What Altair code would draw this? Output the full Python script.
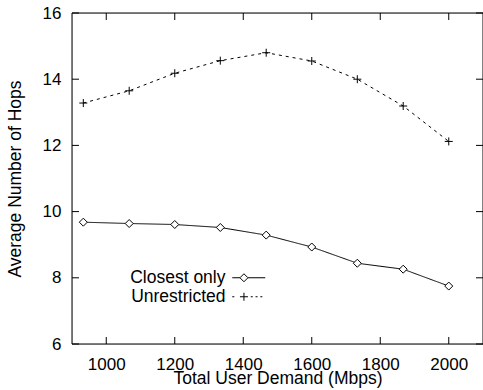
import altair as alt
import pandas as pd

demand = [933, 1067, 1200, 1333, 1467, 1600, 1733, 1867, 2000]
closest = [9.68, 9.64, 9.61, 9.52, 9.29, 8.93, 8.44, 8.26, 7.75]
unrestricted = [13.28, 13.65, 14.18, 14.56, 14.80, 14.55, 14.00, 13.19, 12.12]
series_names = ["Closest only", "Unrestricted"]
x_ticks = [1000, 1200, 1400, 1600, 1800, 2000]
y_ticks = [6, 8, 10, 12, 14, 16]

rows = []
for d, c in zip(demand, closest):
    rows.append({"demand": d, "hops": c, "series": series_names[0]})
for d, u in zip(demand, unrestricted):
    rows.append({"demand": d, "hops": u, "series": series_names[1]})
df = pd.DataFrame(rows)
xt_df = pd.DataFrame({"demand": x_ticks})
yt_df = pd.DataFrame({"hops": y_ticks})
frame_df = pd.DataFrame({"k": [0]})

FONT = "Liberation Sans"
W, H = 411, 331
TICK_SIZE = 196  # symbol area giving 7px tick length
xscale = alt.Scale(domain=[900, 2100], nice=False, zero=False)
yscale = alt.Scale(domain=[6, 16], nice=False, zero=False)

label_common = dict(domain=False, grid=False, ticks=False, labelFlush=False, labelOverlap=False,
                    labelColor="black", labelFont=FONT, labelFontSize=17, format="d",
                    titleFont=FONT, titleFontSize=17.5, titleFontWeight="normal",
                    titleColor="black", titleBaseline="alphabetic", zindex=1)

x_axis = alt.Axis(values=x_ticks, orient="bottom", labelPadding=25, labelBaseline="alphabetic",
                  title="Total User Demand (Mbps)", titleX=205.5, titleY=39, **label_common)
y_axis = alt.Axis(values=y_ticks, orient="left", labelPadding=11,
                  title="Average Number of Hops", titleAngle=270, titleX=-52, titleY=165.5,
                  **label_common)

X_lab = alt.X("demand:Q", scale=xscale, axis=x_axis)
Y_lab = alt.Y("hops:Q", scale=yscale, axis=y_axis)
X = alt.X("demand:Q", scale=xscale, axis=None)
Y = alt.Y("hops:Q", scale=yscale, axis=None)

base = alt.Chart(df)

line = base.mark_line(color="black", strokeWidth=1).encode(
    x=X_lab, y=Y_lab,
    strokeDash=alt.StrokeDash("series:N", scale=alt.Scale(domain=series_names, range=[[1, 0], [3, 4]]), legend=None),
    detail="series:N",
)

points = base.mark_point(filled=True, fill="white", stroke="black", strokeWidth=1, opacity=1, size=64).encode(
    x=X, y=Y,
    shape=alt.Shape("series:N", scale=alt.Scale(domain=series_names,
                                                 range=["diamond", "M-1,0L1,0M0,-1L0,1"]), legend=None),
)

# legend sample paths (line + marker), in units of the 8px marker half-size
leg_closest = "M-4.125,0L-2.2,0M-0.2,0L4.125,0M-2.2,0L-1.2,-1L-0.2,0L-1.2,1Z"
leg_unres = ("M-4.125,0L-3.6,0M-2.2,0L-0.2,0M-1.2,-1L-1.2,1"
             "M0.5,0L1,0M1.7,0L2.2,0M2.9,0L3.4,0")

legend_layer = base.mark_point(opacity=0).encode(
    x=X, y=Y,
    shape=alt.Shape("series:N", scale=alt.Scale(domain=series_names, range=[leg_closest, leg_unres]),
                    legend=alt.Legend(title=None, orient="none", legendX=168, legendY=256,
                                      padding=0, symbolSize=64, symbolOpacity=1,
                                      symbolStrokeColor="black", symbolFillColor="white",
                                      symbolStrokeWidth=1, labelAlign="right",
                                      labelOffset={"expr": "-32"},
                                      labelFontSize=17.5, labelFont=FONT, labelColor="black",
                                      rowPadding=0, labelLimit=300)),
)

# plot frame
frame = alt.Chart(frame_df).mark_rect(filled=False, stroke="black", strokeWidth=1, fillOpacity=0).encode(
    x=alt.value(0), x2=alt.value(W), y=alt.value(0), y2=alt.value(H))

# inward tick marks on all four sides (gnuplot style), drawn as one-sided stroke symbols
tick_kw = dict(filled=False, stroke="black", strokeWidth=1, opacity=1, size=TICK_SIZE)
xt = alt.Chart(xt_df)
yt = alt.Chart(yt_df)
ticks_bottom = xt.mark_point(shape="M0,0L0,-1", **tick_kw).encode(x=X, y=alt.value(H))
ticks_top = xt.mark_point(shape="M0,0L0,1", **tick_kw).encode(x=X, y=alt.value(0))
ticks_left = yt.mark_point(shape="M0,0L1,0", **tick_kw).encode(y=Y, x=alt.value(0))
ticks_right = yt.mark_point(shape="M0,0L-1,0", **tick_kw).encode(y=Y, x=alt.value(W))

chart = alt.layer(line, points, legend_layer, frame,
                  ticks_bottom, ticks_top, ticks_left, ticks_right).resolve_scale(
    shape="independent"
).resolve_axis(x="independent", y="independent").properties(
    width=W, height=H,
    autosize=alt.AutoSizeParams(type="none"),
    padding={"left": 72, "top": 13, "right": 0, "bottom": 46},
    background="white",
).configure_view(stroke="black", strokeWidth=1).configure(font=FONT)

chart.save("out.html", embed_options={"renderer": "svg", "actions": False})
